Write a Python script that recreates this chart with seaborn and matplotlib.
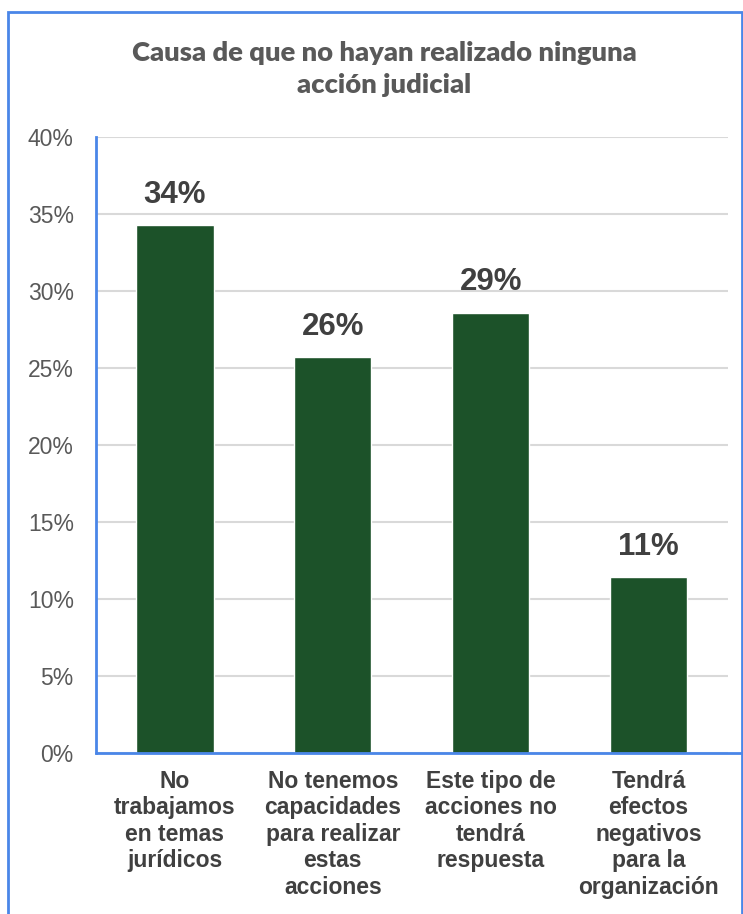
import matplotlib
matplotlib.use("Agg")
import matplotlib.pyplot as plt
import seaborn as sns
import pandas as pd
from matplotlib.patches import Rectangle
from matplotlib.ticker import FuncFormatter

categories = [
    "No\ntrabajamos\nen temas\njurídicos",
    "No tenemos\ncapacidades\npara realizar\nestas\nacciones",
    "Este tipo de\nacciones no\ntendrá\nrespuesta",
    "Tendrá\nefectos\nnegativos\npara la\norganización",
]
values = [34.3, 25.7, 28.6, 11.4]
labels = ["34%", "26%", "29%", "11%"]
yticks = [0, 5, 10, 15, 20, 25, 30, 35, 40]

title = "Causa de que no hayan realizado ninguna\nacción judicial"

sns.set_theme(style="white")
plt.rcParams["font.family"] = ["Liberation Sans", "DejaVu Sans"]

df = pd.DataFrame({"cat": categories, "val": values})

fig = plt.figure(figsize=(7.43, 9.14), dpi=100)
ax = fig.add_axes([96 / 743, 1 - 753 / 914, (727.5 - 96) / 743, (753 - 137) / 914])

sns.barplot(data=df, x="cat", y="val", color="#1c5229", saturation=1, width=0.49, ax=ax, zorder=3)

ax.set_ylim(0, 40)
ax.set_yticks(yticks)
ax.yaxis.set_major_formatter(FuncFormatter(lambda v, p: f"{int(v)}%"))
ax.grid(axis="y", color="#d9d9d9", linewidth=1.5, zorder=0)
ax.set_axisbelow(True)
ax.set_xlabel("")
ax.set_ylabel("")
for s in ["top", "right"]:
    ax.spines[s].set_visible(False)
for s in ["left", "bottom"]:
    ax.spines[s].set_color("#4a86e8")
    ax.spines[s].set_linewidth(2)
ax.spines["bottom"].set_visible(False)
ax.tick_params(axis="y", length=0, labelsize=16.5, labelcolor="#595959", pad=16)
ax.tick_params(axis="x", length=0, labelsize=16.5, labelcolor="#404040", pad=12)
for t in ax.get_xticklabels():
    t.set_fontweight("bold")
    t.set_linespacing(1.2)
    t.set_horizontalalignment("center")

for p, lab in zip(ax.patches, labels):
    ax.annotate(lab, (p.get_x() + p.get_width() / 2, p.get_height()),
                xytext=(0, 11), textcoords="offset points",
                ha="center", va="bottom", fontsize=22.5, fontweight="bold", color="#404040")

# bottom axis line extends to right edge as in the reference
fig.add_artist(plt.Line2D([96 / 743, 742 / 743], [1 - 753 / 914, 1 - 753 / 914],
                          transform=fig.transFigure, color="#4a86e8", linewidth=2))

fig.text(0.5 * (133 + 635) / 743, 1 - 69 / 914, title, ha="center", va="center",
         fontsize=19.7, fontweight="heavy", color="#595959", family=["Lato", "DejaVu Sans"],
         linespacing=1.42)

fig.patches.append(Rectangle((8 / 743, -0.05), (742 - 8) / 743, 1.05 - 12 / 914,
                             transform=fig.transFigure, fill=False,
                             edgecolor="#4a86e8", linewidth=2))

fig.savefig("out.png", dpi=100)
